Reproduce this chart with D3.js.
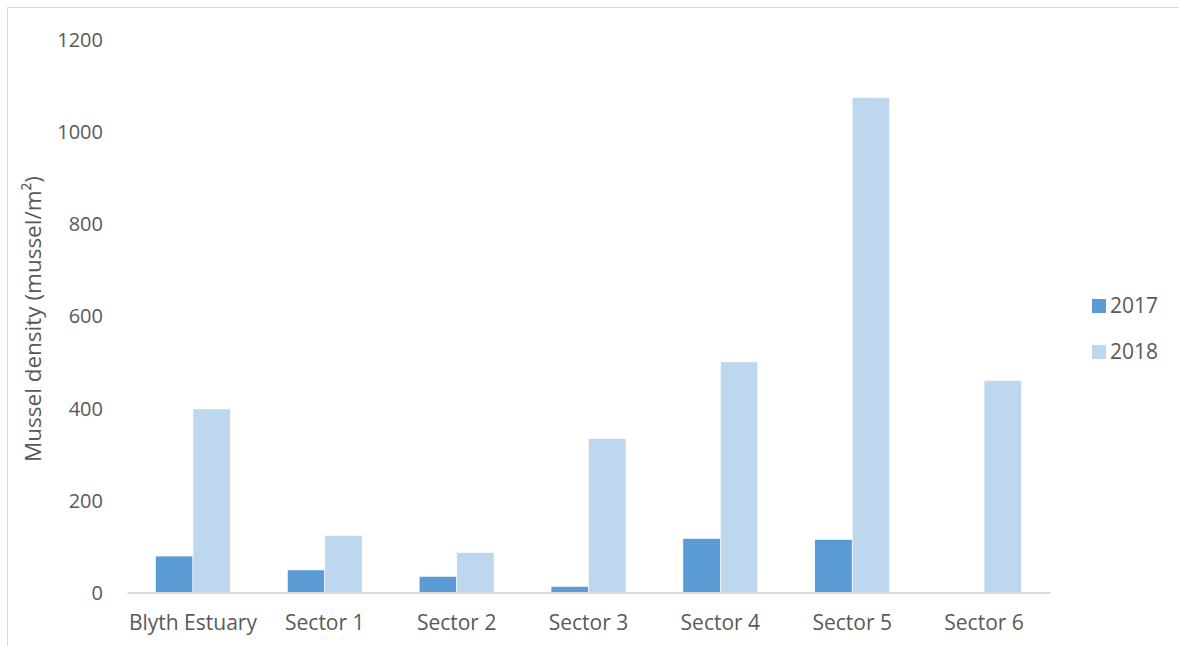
<!DOCTYPE html>
<html><head><meta charset="utf-8">
<script src="https://cdn.jsdelivr.net/npm/d3@7"></script>
<style>body{margin:0;background:#fff}svg{display:block}text{font-family:"Open Sans","Liberation Sans",sans-serif;fill:#595959}</style>
</head><body>
<script>
const categories = ["Blyth Estuary","Sector 1","Sector 2","Sector 3","Sector 4","Sector 5","Sector 6"];
const seriesNames = ["2017","2018"];
const values2017 = [79, 49, 35, 13, 117, 115, 0];
const values2018 = [398, 124, 87, 334, 500, 1073, 460];
const yTicks = [0,200,400,600,800,1000,1200];
const colors = ["#5b9bd5","#bdd7ee"];

(function(){
const W=1179,H=646;
const svg=d3.select("body").append("svg").attr("width",W).attr("height",H);
svg.append("rect").attr("x",7.5).attr("y",7.5).attr("width",W).attr("height",H).attr("fill","none").attr("stroke","#d9d9d9");

const pl=127,pr=1050,pt=39,pb=592.5;
const x=d3.scaleBand().domain(categories).range([pl,pr]).paddingInner(0).paddingOuter(0);
const xs=d3.scaleBand().domain(seriesNames).range([0,x.bandwidth()]).paddingInner(0).paddingOuter(0.76);
const y=d3.scaleLinear().domain([0,1200]).range([pb,pt]);

const yAxis=d3.axisLeft(y).tickValues(yTicks).tickFormat(d3.format("d")).tickSize(0).tickPadding(0);
const gy=svg.append("g").attr("transform","translate(103,0)").call(yAxis);
gy.select(".domain").remove();
gy.selectAll("text").style("font-size","20px").attr("fill","#595959").attr("dy","0.35em");

const data=[values2017,values2018];
seriesNames.forEach((s,i)=>{
  svg.append("g").selectAll("rect").data(categories).join("rect")
    .attr("x",c=>x(c)+xs(s)).attr("width",xs.bandwidth())
    .attr("y",(c,j)=>y(data[i][j])).attr("height",(c,j)=>y(0)-y(data[i][j]))
    .attr("fill",colors[i]).attr("stroke","#fff").attr("stroke-width",0.6);
});

const xAxis=d3.axisBottom(x).tickSize(0).tickPadding(23);
const gx=svg.append("g").attr("transform",`translate(0,${pb})`).call(xAxis);
gx.select(".domain").attr("stroke","#d9d9d9").attr("stroke-width",2);
gx.selectAll("text").style("font-size","21px").attr("fill","#595959");

svg.append("text").attr("transform","translate(41,319) rotate(-90)").attr("text-anchor","middle")
  .style("font-size","22.5px").text("Mussel density (mussel/m²)");

const lg=svg.append("g");
seriesNames.forEach((s,i)=>{
  const cy=306+i*46;
  lg.append("rect").attr("x",1092).attr("y",cy-7).attr("width",14).attr("height",14).attr("fill",colors[i]);
  lg.append("text").attr("x",1110).attr("y",cy).attr("dy","0.35em").style("font-size","21px").text(s);
});
})();
</script>
</body></html>
